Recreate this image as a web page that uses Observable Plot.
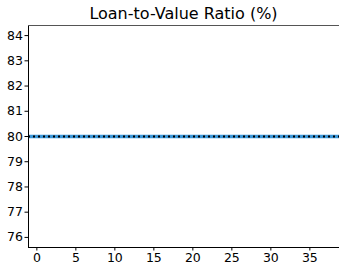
<!DOCTYPE html>
<html>
<head>
<meta charset="utf-8">
<script src="https://cdn.jsdelivr.net/npm/d3@7"></script>
<script src="https://cdn.jsdelivr.net/npm/@observablehq/plot@0.6"></script>
<style>
  body { margin: 0; background: #fff; font-family: "DejaVu Sans", sans-serif; }
  #title { height: 24px; width: 339px; box-sizing: border-box; padding-left: 28px; text-align: center;
           font-size: 16px; line-height: 27px; color: #000; white-space: nowrap; overflow: visible; }
</style>
</head>
<body>
<div id="title">Loan-to-Value Ratio (%)</div>
<div id="chart"></div>
<script>
const titleText = "Loan-to-Value Ratio (%)";
const ltvValue = [80];            // constant loan-to-value ratio line
const guideValue = [80];          // dotted reference line
const xTicks = [0, 5, 10, 15, 20, 25, 30, 35];
const yTicks = [76, 77, 78, 79, 80, 81, 82, 83, 84];
const xDomain = [-1.07, 38.8];
const yDomain = [75.6, 84.4];

const chart = Plot.plot({
  width: 339,
  height: 240,
  marginTop: 1,
  marginLeft: 28,
  marginRight: 0,
  marginBottom: 17,
  style: { fontFamily: "DejaVu Sans, sans-serif", fontSize: "12px", color: "#000", background: "#fff" },
  x: { domain: xDomain, label: null, axis: null },
  y: { domain: yDomain, label: null, axis: null },
  marks: [
    Plot.axisX(xTicks, { tickSize: 3.5, tickPadding: 2, fontSize: 12.5, label: null }),
    Plot.axisY(yTicks, { tickSize: 3.5, tickPadding: 2, fontSize: 12.5, label: null }),
    Plot.ruleY(ltvValue, { stroke: "#3b97d9", strokeWidth: 3.5 }),
    Plot.ruleY(guideValue, { stroke: "#000", strokeWidth: 2, strokeDasharray: "2,3" }),
    Plot.ruleX([xDomain[0]], { stroke: "#000", strokeWidth: 1 }),
    Plot.ruleY([yDomain[0]], { stroke: "#000", strokeWidth: 1 }),
    Plot.ruleY([yDomain[1]], { stroke: "#555", strokeWidth: 1.2 })
  ]
});
document.getElementById("chart").appendChild(chart);
</script>
</body>
</html>
